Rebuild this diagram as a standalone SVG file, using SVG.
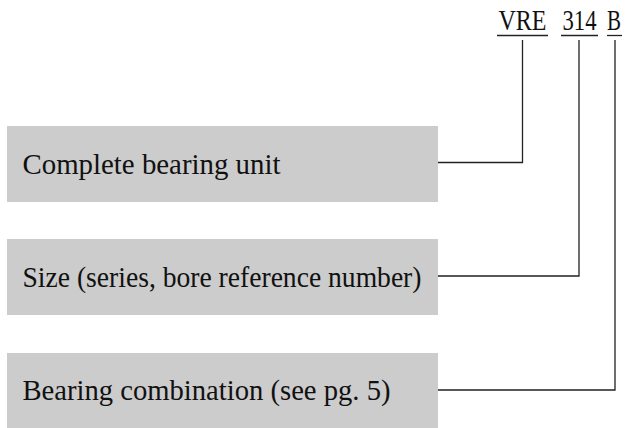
<svg xmlns="http://www.w3.org/2000/svg" width="626" height="428" viewBox="0 0 626 428">
<style>
  .box { fill: #cccccc; }
  .lbl { font-family: "Liberation Serif", "Times New Roman", serif; font-size: 30px; fill: #111111; }
  .code { font-family: "Liberation Serif", "Times New Roman", serif; font-size: 29px; fill: #111111; text-anchor: middle; }
  .conn { fill: none; stroke: #222222; stroke-width: 1.3; }
  .ul { stroke: #222222; stroke-width: 1.3; }
</style>
<rect width="626" height="428" fill="#ffffff"/>
<g id="code">
  <text class="code" x="522.5" y="30" textLength="48" lengthAdjust="spacingAndGlyphs">VRE</text>
  <text class="code" x="579.5" y="30" textLength="34" lengthAdjust="spacingAndGlyphs">314</text>
  <text class="code" x="614" y="30" textLength="14" lengthAdjust="spacingAndGlyphs">B</text>
  <line class="ul" x1="497" y1="35.5" x2="548" y2="35.5"/>
  <line class="ul" x1="561" y1="35.5" x2="598" y2="35.5"/>
  <line class="ul" x1="607" y1="35.5" x2="622" y2="35.5"/>
</g>
<g id="node-unit">
  <rect class="box" x="7" y="126" width="431" height="76"/>
  <text class="lbl" x="22.5" y="174" textLength="258" lengthAdjust="spacingAndGlyphs">Complete bearing unit</text>
</g>
<g id="node-size">
  <rect class="box" x="7" y="239" width="431" height="76"/>
  <text class="lbl" x="22.5" y="286.5" textLength="399" lengthAdjust="spacingAndGlyphs">Size (series, bore reference number)</text>
</g>
<g id="node-comb">
  <rect class="box" x="7" y="353" width="431" height="76"/>
  <text class="lbl" x="22.5" y="400" textLength="368" lengthAdjust="spacingAndGlyphs">Bearing combination (see pg. 5)</text>
</g>
<g id="connectors">
  <polyline class="conn" points="438,162.5 522.5,162.5 522.5,40"/>
  <polyline class="conn" points="438,276 579,276 579,40"/>
  <polyline class="conn" points="438,390 615,390 615,40"/>
</g>
</svg>
